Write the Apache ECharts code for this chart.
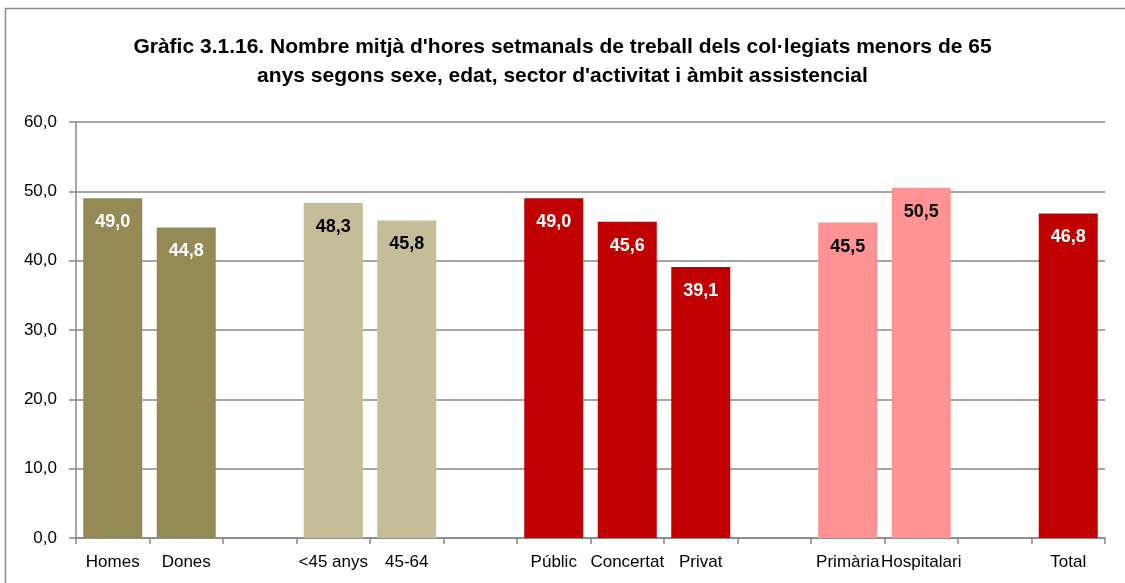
<!DOCTYPE html>
<html><head><meta charset="utf-8">
<script src="https://cdn.jsdelivr.net/npm/echarts@6/dist/echarts.min.js"></script>
<style>html,body{margin:0;padding:0;background:#fff}#c{width:1125px;height:583px}</style>
</head><body><div id="c"></div>
<script>
const titleText = "Gràfic 3.1.16. Nombre mitjà d'hores setmanals de treball dels col·legiats menors de 65\nanys segons sexe, edat, sector d'activitat i àmbit assistencial";
const categories = ["Homes","Dones","","<45 anys","45-64","","Públic","Concertat","Privat","","Primària","Hospitalari","","Total"];
const values = [49.0,44.8,null,48.3,45.8,null,49.0,45.6,39.1,null,45.5,50.5,null,46.8];
const groups = ["sexe","sexe",null,"edat","edat",null,"sector","sector","sector",null,"ambit","ambit",null,"total"];
const yTicks = [0,10,20,30,40,50,60];

const FONT = "'Liberation Sans Narrow','Arial Narrow','Liberation Sans',Arial,sans-serif";
const fill = {sexe:'#948A54', edat:'#C4BD97', sector:'#C00000', ambit:'#FF9393', total:'#C00000'};
const lab = {sexe:'#ffffff', edat:'#000000', sector:'#ffffff', ambit:'#000000', total:'#ffffff'};
const fmt = v => v.toFixed(1).replace('.', ',');

const data = values.map((v,i)=> v===null ? '-' : ({
  value: v,
  itemStyle:{color: fill[groups[i]]},
  label:{color: lab[groups[i]]}
}));

const chart = echarts.init(document.getElementById('c'), null, {renderer:'canvas'});
chart.setOption({
  animation:false,
  title:{text:titleText, left:'center', top:28, textStyle:{fontFamily:FONT, fontSize:21, fontWeight:'bold', color:'#000', lineHeight:29}},
  graphic:[{type:'rect', shape:{x:5.5,y:8.5,width:1130,height:600}, style:{fill:'none', stroke:'#8c8c8c', lineWidth:1.5}, silent:true}],
  grid:{left:76, right:20, top:122, bottom:45, containLabel:false},
  xAxis:{type:'category', data:categories,
    axisLine:{lineStyle:{color:'#888', width:1.5}},
    axisTick:{show:true, length:6, lineStyle:{color:'#888', width:1.5}, interval:0},
    axisLabel:{interval:0, color:'#000', fontFamily:FONT, fontSize:17, margin:16}
  },
  yAxis:{type:'value', min:yTicks[0], max:yTicks[yTicks.length-1], interval:10,
    axisLine:{show:true, lineStyle:{color:'#888', width:1.5}},
    axisTick:{show:true, length:7, lineStyle:{color:'#888', width:1.5}},
    splitLine:{lineStyle:{color:'#888', width:1.5}},
    axisLabel:{color:'#000', fontFamily:FONT, fontSize:17, margin:19, formatter:v=>fmt(v)}
  },
  series:[{type:'bar', data:data, barWidth:59,
    label:{show:true, position:'insideTop', distance:15, fontFamily:FONT, fontSize:18, fontWeight:'bold', formatter:p=>fmt(p.value)}
  }]
});
</script></body></html>
